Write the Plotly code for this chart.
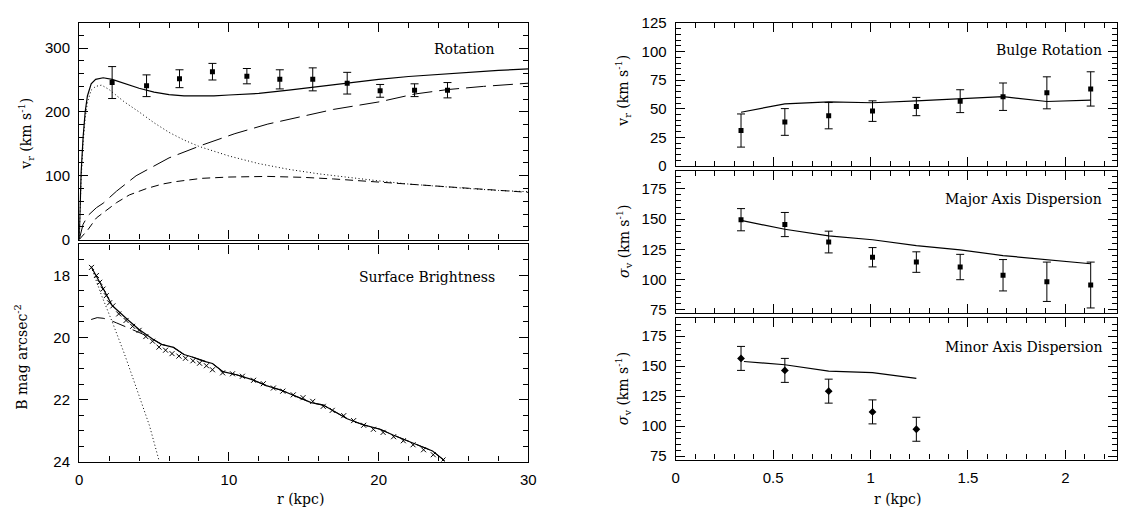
import plotly.graph_objects as go

# ---------------- Data ----------------
# Rotation curve (left top)
rot_r = [2.2, 4.5, 6.7, 8.9, 11.2, 13.4, 15.6, 17.9, 20.1, 22.4, 24.6]
rot_v = [246, 241, 252, 263, 256, 251, 251, 245, 233, 234, 234]
rot_err = [25, 17, 14, 13, 12, 15, 18, 17, 10, 10, 12]

tot_r = [0, 0.05, 0.13, 0.26, 0.4, 0.55, 0.8, 1.1, 1.6, 2.2, 3.0, 4.0, 5.0, 6.0, 7.0, 8.0, 9.0, 10, 12, 14, 16, 18, 20, 22, 24, 26, 28, 30]
tot_v = [0, 40, 105, 160, 200, 225, 244, 251, 253.5, 251, 245, 237, 231, 227, 225, 224.5, 225, 226.5, 229, 234, 240, 246, 251, 255.5, 259, 262, 265, 267.5]

bul_r = [0, 0.05, 0.13, 0.26, 0.4, 0.55, 0.8, 1.1, 1.5, 2.0, 2.5, 3.0, 4.0, 5.0, 6.0, 7.0, 8.0, 9.0, 10, 12, 14, 16, 18, 20, 22, 24, 26, 28, 30]
bul_v = [0, 35, 95, 150, 190, 215, 234, 240, 242, 235, 226, 216, 200, 183, 168, 156, 146, 138, 131, 119, 110, 103, 97, 92, 87, 83, 80, 77, 75]

dsk_r = [0, 0.3, 0.6, 1.15, 1.6, 2.5, 3.35, 4.5, 5.55, 6.5, 8.2, 10, 12.6, 15, 17, 20, 23, 26, 30]
dsk_v = [0, 8, 16, 34, 42, 58, 70, 80, 87, 91, 96, 98, 99, 97.5, 95, 90, 85, 80, 74]

hal_r = [0, 0.26, 0.6, 1.15, 1.6, 2.5, 3.8, 5.0, 6.0, 8.2, 10.4, 12.6, 15, 17, 20.1, 22.4, 24.6, 27, 30]
hal_v = [0, 24, 38, 50, 57, 76, 100, 115, 128, 148, 166, 181, 194, 204, 216, 228, 235, 240, 245]

# Surface brightness (left bottom)
sb_r = [0.82, 1.15, 1.37, 1.59, 1.81, 2.03, 2.25, 2.64, 3.13, 3.57, 4.0, 4.45, 4.9, 5.33, 5.77, 6.2,
        6.66, 7.1, 7.6, 8.04, 8.5, 8.9, 9.58, 10.24, 10.9, 11.65, 12.3, 12.97, 13.6, 14.3, 14.95,
        15.6, 16.3, 16.9, 17.67, 18.33, 19.0, 19.65, 20.3, 21.0, 21.65, 22.3, 23.0, 23.65, 24.3]
sb_mag = [17.74, 18.0, 18.22, 18.44, 18.65, 18.88, 18.98, 19.24, 19.45, 19.64, 19.77, 19.97, 20.12, 20.31,
          20.41, 20.52, 20.6, 20.67, 20.75, 20.83, 20.91, 21.04, 21.14, 21.17, 21.25, 21.38, 21.49, 21.63,
          21.73, 21.85, 21.94, 22.06, 22.22, 22.35, 22.52, 22.68, 22.83, 22.96, 23.06, 23.2, 23.33, 23.46,
          23.62, 23.78, 23.95]

sbt_r = [0.8, 1.2, 1.6, 2.2, 2.7, 3.3, 4.0, 4.9, 5.5, 6.3, 7.0, 7.5, 8.3, 8.9, 9.6, 10.5, 11.5, 12.5, 13.5,
         14.5, 15.5, 16.3, 17.0, 17.9, 19.0, 20.1, 21.0, 22.0, 22.8, 23.6, 24.4]
sbt_mag = [17.72, 18.05, 18.42, 18.97, 19.2, 19.45, 19.74, 20.05, 20.22, 20.32, 20.55, 20.62, 20.76, 20.84,
           21.1, 21.2, 21.35, 21.55, 21.7, 21.9, 22.1, 22.18, 22.38, 22.62, 22.82, 22.96, 23.15, 23.35,
           23.5, 23.66, 23.97]

sbd_r = [0.8, 1.2, 1.6, 2.0, 2.5, 3.0, 3.5, 4.2, 4.9, 5.5, 6.3, 7.0, 7.5, 8.3, 8.9, 9.6, 10.5, 11.5, 12.5,
         13.5, 14.5, 15.5, 16.3, 17.0, 17.9, 19.0, 20.1, 21.0, 22.0, 22.8, 23.6, 24.4]
sbd_mag = [19.42, 19.36, 19.38, 19.43, 19.53, 19.63, 19.74, 19.88, 20.05, 20.22, 20.32, 20.55, 20.62, 20.76,
           20.84, 21.1, 21.2, 21.35, 21.55, 21.7, 21.9, 22.1, 22.18, 22.38, 22.62, 22.82, 22.96, 23.15,
           23.35, 23.5, 23.66, 23.97]

sbb_r = [0.8, 1.5, 2.25, 3.0, 3.8, 4.7, 5.35]
sbb_mag = [17.72, 18.65, 19.55, 20.5, 21.6, 22.85, 24.0]

# Bulge kinematics (right panels)
kin_r = [0.335, 0.56, 0.785, 1.01, 1.235, 1.46, 1.68, 1.905, 2.13]
brot_v = [31, 38.5, 44, 48, 52, 56.7, 60.6, 64, 67.4]
brot_err = [14.5, 11.7, 11.5, 9, 8, 10, 12, 14, 15]
brot_model = [47, 54.4, 56.1, 55.3, 57, 58.7, 60.6, 56.4, 57.6]

maj_s = [149.5, 145.5, 131, 118.4, 114.4, 110.3, 103.5, 98.1, 95.4]
maj_err = [9.2, 10, 9, 8, 8.5, 10.5, 13, 16.3, 19]
maj_model = [148.9, 141.6, 136.1, 132.9, 128, 124.5, 119.8, 116.6, 113]

min_r = [0.335, 0.56, 0.785, 1.01, 1.235]
min_s = [156.4, 146.4, 129.1, 111.8, 97.3]
min_err = [10, 10, 10, 10, 10]
min_model_r = [0.35, 0.56, 0.785, 1.01, 1.235]
min_model = [153.8, 151.1, 145.8, 144.5, 139.7]

# ---------------- Figure ----------------
W, H = 1125, 518
def px(x):
    return x / W
def py(y):
    return 1 - y / H

fig = go.Figure()
BLK = "black"

def line(x, y, xa, ya, dash="solid", width=1.1):
    fig.add_trace(go.Scatter(x=x, y=y, mode="lines", xaxis=xa, yaxis=ya,
                             line=dict(color=BLK, width=width, dash=dash), showlegend=False,
                             hoverinfo="skip"))

def errpts(x, y, e, xa, ya, symbol="square", size=5):
    fig.add_trace(go.Scatter(x=x, y=y, mode="markers", xaxis=xa, yaxis=ya,
                             marker=dict(symbol=symbol, size=size, color=BLK),
                             error_y=dict(type="data", array=e, visible=True, color=BLK,
                                          thickness=1, width=4),
                             showlegend=False))

# Left top: rotation
line(tot_r, tot_v, "x", "y", "solid", 1.2)
line(bul_r, bul_v, "x", "y", "1px,2.5px", 1.0)
line(dsk_r, dsk_v, "x", "y", "8px,5px", 1.0)
line(hal_r, hal_v, "x", "y", "20px,7px", 1.0)
errpts(rot_r, rot_v, rot_err, "x", "y")

# Left bottom: surface brightness
line(sbb_r, sbb_mag, "x2", "y2", "1px,2.5px", 1.0)
line(sbd_r, sbd_mag, "x2", "y2", "14px,8px", 1.0)
line(sbt_r, sbt_mag, "x2", "y2", "solid", 1.2)
fig.add_trace(go.Scatter(x=sb_r, y=sb_mag, mode="markers", xaxis="x2", yaxis="y2",
                         marker=dict(symbol="x-thin", size=5, line=dict(color=BLK, width=1)),
                         showlegend=False))

# Right panels
line(kin_r, brot_model, "x3", "y3", "solid", 1.2)
errpts(kin_r, brot_v, brot_err, "x3", "y3")
line(kin_r, maj_model, "x4", "y4", "solid", 1.2)
errpts(kin_r, maj_s, maj_err, "x4", "y4")
line(min_model_r, min_model, "x5", "y5", "solid", 1.2)
errpts(min_r, min_s, min_err, "x5", "y5", symbol="diamond", size=6)

TICKFONT = dict(family="Liberation Sans, Arial, sans-serif", size=15, color=BLK)
LABFONT = dict(family="DejaVu Serif, Liberation Serif, serif", size=14, color=BLK)

def xax(dom, rng, dtick, mdtick, anchor, labels):
    return dict(domain=dom, range=rng, anchor=anchor, dtick=dtick, tick0=0,
                ticks="inside", ticklen=9, tickwidth=1, tickcolor=BLK,
                minor=dict(dtick=mdtick, ticks="inside", ticklen=5, tickwidth=1, tickcolor=BLK),
                showline=True, linecolor=BLK, linewidth=1.3, mirror="allticks",
                showgrid=False, zeroline=False, showticklabels=labels, tickfont=TICKFONT,
                ticklabelstandoff=4)

def yax(dom, rng, dtick, mdtick, anchor):
    return dict(domain=dom, range=rng, anchor=anchor, dtick=dtick, tick0=0,
                ticks="inside", ticklen=9, tickwidth=1, tickcolor=BLK,
                minor=dict(dtick=mdtick, ticks="inside", ticklen=5, tickwidth=1, tickcolor=BLK),
                showline=True, linecolor=BLK, linewidth=1.3, mirror="allticks",
                showgrid=False, zeroline=False, tickfont=TICKFONT, ticklabelstandoff=5)

LX = [px(76), px(530)]
RX = [px(679), 1.0]

fig.update_layout(
    width=W, height=H, margin=dict(l=0, r=0, t=0, b=0), autosize=False,
    paper_bgcolor="white", plot_bgcolor="white",
    xaxis=xax(LX, [0, 30], 10, 2, "y", False),
    yaxis=yax([py(239), py(15)], [0, 340], 100, 20, "x"),
    xaxis2=xax(LX, [0, 30], 10, 2, "y2", True),
    yaxis2=yax([py(468), py(244)], [24, 17], 2, 0.5, "x2"),
    xaxis3=xax(RX, [0, 2.265], 0.5, 0.1, "y3", False),
    yaxis3=yax([py(163), py(15)], [0, 125.5], 25, 5, "x3"),
    xaxis4=xax(RX, [0, 2.265], 0.5, 0.1, "y4", False),
    yaxis4=yax([py(315), py(168)], [72, 190], 25, 5, "x4"),
    xaxis5=xax(RX, [0, 2.265], 0.5, 0.1, "y5", True),
    yaxis5=yax([py(466), py(320)], [72, 190], 25, 5, "x5"),
)

ann = []
def text(x, y, t, xanchor="right", angle=0):
    ann.append(dict(x=px(x), y=py(y), xref="paper", yref="paper", text=t, showarrow=False,
                    xanchor=xanchor, yanchor="middle", textangle=angle, font=LABFONT))

text(498, 42, "Rotation")
text(498, 278, "Surface Brightness")
text(1112, 43, "Bulge Rotation")
text(1112, 197, "Major Axis Dispersion")
text(1112, 350, "Minor Axis Dispersion")
text(300, 507, "r (kpc)", "center")
text(903, 507, "r (kpc)", "center")
text(22, 130, "v<sub>r</sub> (km s<sup>-1</sup>)", "center", -90)
text(17, 360, "B mag arcsec<sup>-2</sup>", "center", -90)
text(626, 85, "v<sub>r</sub> (km s<sup>-1</sup>)", "center", -90)
text(626, 241, "<i>σ</i><sub>v</sub> (km s<sup>-1</sup>)", "center", -90)
text(626, 393, "<i>σ</i><sub>v</sub> (km s<sup>-1</sup>)", "center", -90)
fig.update_layout(annotations=ann)

fig.write_html("out.html")
